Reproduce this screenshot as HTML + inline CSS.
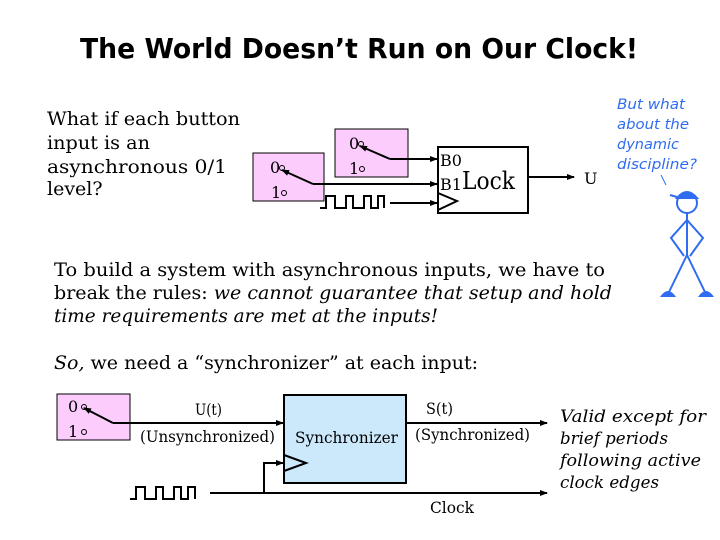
<!DOCTYPE html>
<html><head><style>
body{margin:0;background:#fff}
svg{display:block}
.s{font-family:"DejaVu Serif","Liberation Serif",serif;fill:#000}
</style></head><body>
<svg width="720" height="540" xmlns="http://www.w3.org/2000/svg">
<defs><marker id="a" markerWidth="8" markerHeight="8" refX="7" refY="4" orient="auto" markerUnits="userSpaceOnUse"><path d="M0,1 L8,4 L0,7z" fill="#000"/></marker></defs>
<text x="80" y="58" textLength="558" lengthAdjust="spacingAndGlyphs" font-family="DejaVu Sans,sans-serif" font-weight="bold" font-size="28">The World Doesn’t Run on Our Clock!</text>
<g class="s" font-size="19">
<text x="47" y="125" textLength="193" lengthAdjust="spacingAndGlyphs">What if each button</text>
<text x="47" y="149" textLength="103" lengthAdjust="spacingAndGlyphs">input is an</text>
<text x="47" y="173" textLength="180" lengthAdjust="spacingAndGlyphs">asynchronous 0/1</text>
<text x="47" y="195">level?</text>
<text x="54" y="276" textLength="551" lengthAdjust="spacingAndGlyphs">To build a system with asynchronous inputs, we have to</text>
<text x="54" y="299" textLength="558" lengthAdjust="spacingAndGlyphs">break the rules: <tspan font-style="italic">we cannot guarantee that setup and hold</tspan></text>
<text x="54" y="322" font-style="italic" textLength="384" lengthAdjust="spacingAndGlyphs">time requirements are met at the inputs!</text>
<text x="54" y="369" textLength="424" lengthAdjust="spacingAndGlyphs"><tspan font-style="italic">So,</tspan> we need a “synchronizer” at each input:</text>
</g>
<g stroke="#000" stroke-width="1" fill="#fcccfc">
<rect x="335" y="129" width="73" height="48"/>
<rect x="253" y="153" width="71" height="48"/>
<rect x="57" y="394" width="73" height="46"/>
</g>
<rect x="438" y="147" width="90" height="66" fill="#fff" stroke="#000" stroke-width="2"/>
<rect x="284" y="395" width="122" height="88" fill="#cce9fb" stroke="#000" stroke-width="2"/>
<g fill="none" stroke="#000" stroke-width="2">
<path d="M390,159 L360,146" marker-end="url(#a)"/>
<path d="M390,159 H437" marker-end="url(#a)"/>
<path d="M313,184 L282,170" marker-end="url(#a)"/>
<path d="M313,184 H437" marker-end="url(#a)"/>
<path d="M390,203 H437" marker-end="url(#a)"/>
<path d="M320,208 H326 V196 H335 V208 H346 V196 H353 V208 H364 V196 H371 V208 H378 V196 H384 V208"/>
<path d="M438,193 L457,201 L438,210"/>
<path d="M528,177 H574" marker-end="url(#a)"/>
<path d="M113,423 L84,408" marker-end="url(#a)"/>
<path d="M113,423 H283" marker-end="url(#a)"/>
<path d="M406,423 H547" marker-end="url(#a)"/>
<path d="M210,493 H547" marker-end="url(#a)"/>
<path d="M264,493 V463 H283" marker-end="url(#a)"/>
<path d="M284,455 L306,463 L284,471"/>
<path d="M130,499 H136 V487 H145 V499 H156 V487 H163 V499 H174 V487 H181 V499 H188 V487 H195 V499"/>
</g>
<g fill="none" stroke="#000" stroke-width="1">
<circle cx="361" cy="144" r="2.5"/><circle cx="362" cy="169" r="2.5"/>
<circle cx="282" cy="168" r="2.5"/><circle cx="284" cy="193" r="2.5"/>
<circle cx="84" cy="407" r="2.5"/><circle cx="84" cy="432" r="2.5"/>
</g>
<g class="s" font-size="16">
<text x="349" y="149">0</text><text x="349" y="174">1</text>
<text x="270" y="173">0</text><text x="271" y="198">1</text>
<text x="68" y="412">0</text><text x="68" y="437">1</text>
<text x="440" y="166">B0</text><text x="440" y="190">B1</text>
<text x="462" y="189" font-size="24" textLength="53" lengthAdjust="spacingAndGlyphs">Lock</text>
<text x="584" y="184">U</text>
<text x="195" y="415" textLength="27" lengthAdjust="spacingAndGlyphs">U(t)</text>
<text x="140" y="442" textLength="135" lengthAdjust="spacingAndGlyphs">(Unsynchronized)</text>
<text x="295" y="443" textLength="103" lengthAdjust="spacingAndGlyphs">Synchronizer</text>
<text x="426" y="414" textLength="27" lengthAdjust="spacingAndGlyphs">S(t)</text>
<text x="415" y="440" textLength="115" lengthAdjust="spacingAndGlyphs">(Synchronized)</text>
<text x="430" y="513" textLength="44" lengthAdjust="spacingAndGlyphs">Clock</text>
</g>
<g class="s" font-size="17" font-style="italic">
<text x="560" y="422" textLength="146" lengthAdjust="spacingAndGlyphs">Valid except for</text>
<text x="560" y="444" textLength="108" lengthAdjust="spacingAndGlyphs">brief periods</text>
<text x="560" y="466" textLength="141" lengthAdjust="spacingAndGlyphs">following active</text>
<text x="560" y="488" textLength="99" lengthAdjust="spacingAndGlyphs">clock edges</text>
</g>
<g font-family="DejaVu Sans,sans-serif" font-size="14" font-style="italic" fill="#2f6cf0">
<text x="617" y="109" textLength="68" lengthAdjust="spacingAndGlyphs">But what</text>
<text x="617" y="129" textLength="72" lengthAdjust="spacingAndGlyphs">about the</text>
<text x="617" y="149" textLength="62" lengthAdjust="spacingAndGlyphs">dynamic</text>
<text x="617" y="169" textLength="80" lengthAdjust="spacingAndGlyphs">discipline?</text>
</g>
<g fill="none" stroke="#2f6cf0" stroke-width="2">
<line x1="661" y1="175" x2="666" y2="185" stroke-width="1"/>
<circle cx="687" cy="203" r="10"/>
<path d="M677,198 Q687,186 697,198 Z" fill="#2f6cf0"/>
<path d="M677,197 L670,195"/>
<path d="M687,213 V255"/>
<path d="M687,220 L671,238 L684,256 M687,220 L703,238 L690,256"/>
<path d="M687,255 L669,292 M687,255 L705,292"/>
<path d="M662,296 Q668,288 674,296 Z M700,296 Q706,288 712,296 Z" fill="#2f6cf0"/>
</g>
</svg>
</body></html>
